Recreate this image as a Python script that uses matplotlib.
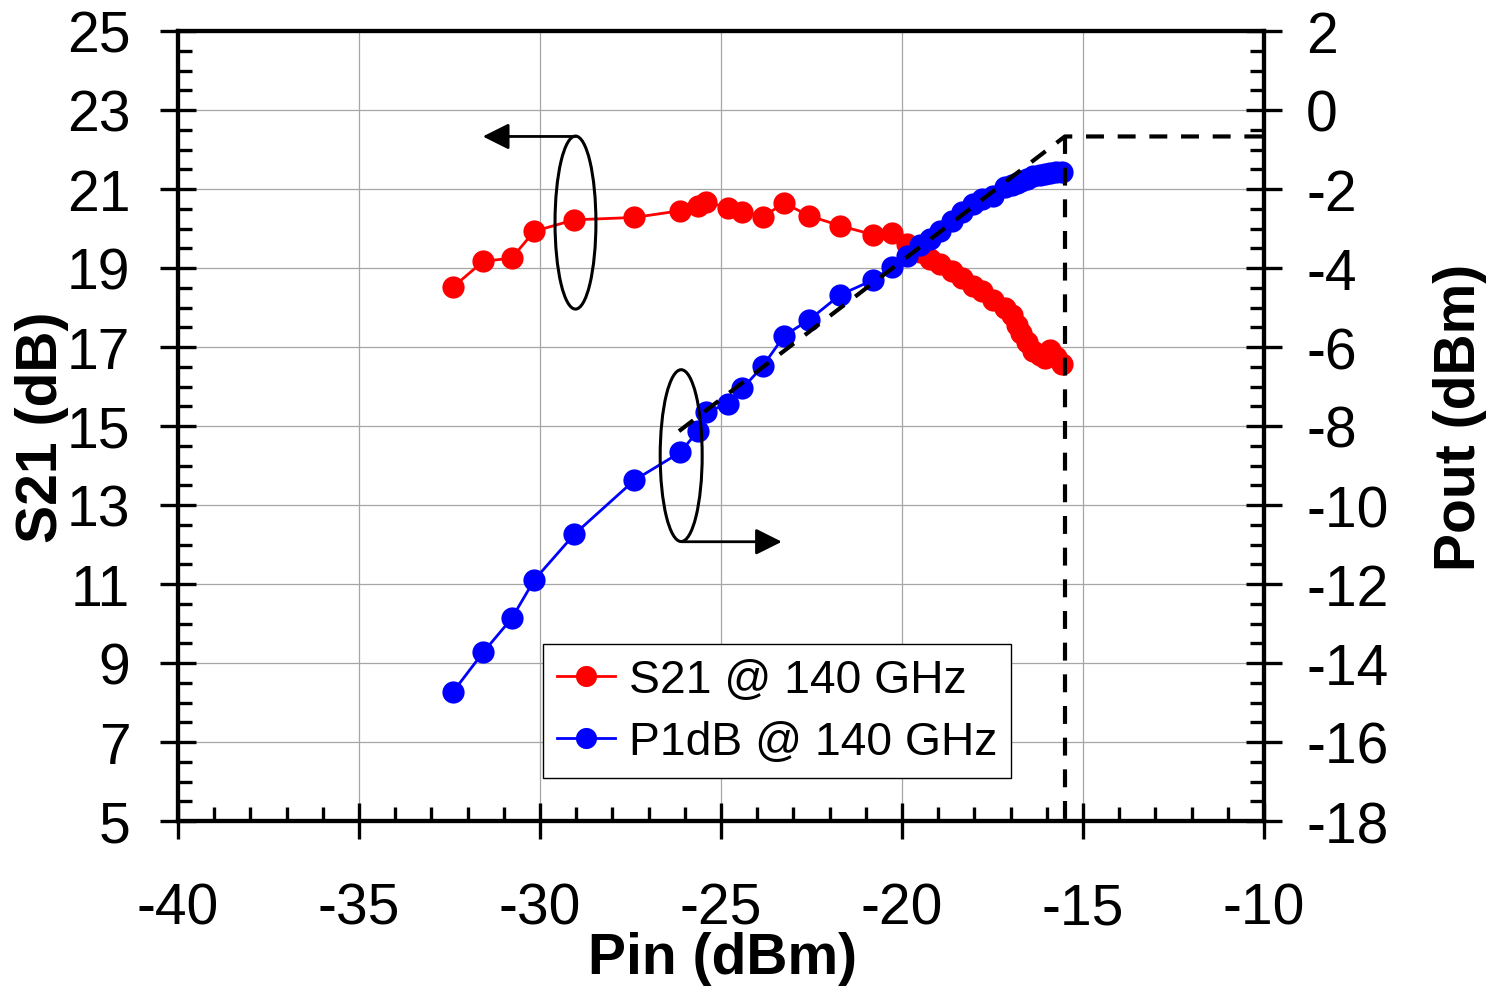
import matplotlib
matplotlib.use("Agg")
import matplotlib.pyplot as plt
from matplotlib.patches import Ellipse, FancyArrowPatch
from matplotlib.ticker import MultipleLocator

plt.rcParams['font.family'] = ['Liberation Sans', 'DejaVu Sans']

# ---- data ----
pin = [-32.41, -31.57, -30.78, -30.16, -29.05, -27.39, -26.13, -25.63, -25.41,
       -24.82, -24.41, -23.85, -23.25, -22.56, -21.71, -20.79, -20.29, -19.87,
       -19.50, -19.23, -18.95, -18.63, -18.35, -18.05, -17.80, -17.48, -17.15,
       -16.95, -16.83, -16.70, -16.56, -16.37, -16.20, -16.05, -15.91, -15.75,
       -15.59]
s21 = [18.51, 19.17, 19.25, 19.93, 20.22, 20.28, 20.45, 20.56, 20.68,
       20.52, 20.41, 20.30, 20.64, 20.32, 20.07, 19.84, 19.89, 19.61,
       19.40, 19.23, 19.10, 18.92, 18.75, 18.55, 18.43, 18.20, 18.00,
       17.80, 17.55, 17.35, 17.12, 16.91, 16.80, 16.72, 16.92, 16.75,
       16.57]
pout = [-14.74, -13.73, -12.87, -11.90, -10.74, -9.37, -8.67, -8.12, -7.65,
        -7.44, -7.05, -6.49, -5.71, -5.31, -4.68, -4.30, -3.98, -3.69,
        -3.43, -3.27, -3.06, -2.80, -2.59, -2.38, -2.25, -2.17, -1.96,
        -1.90, -1.85, -1.80, -1.75, -1.68, -1.64, -1.62, -1.60, -1.58,
        -1.56]

# linear-gain reference and P1dB markers (Pout axis)
ref_x = [-26.16, -15.5, -10.0]
ref_y = [-8.13, -0.67, -0.67]
p1db_x = [-15.5, -15.5]
p1db_y = [-0.67, -18.0]

s21_label = "S21 @ 140 GHz"
p1db_label = "P1dB @ 140 GHz"

W, H = 1499, 987
fig = plt.figure(figsize=(W / 100, H / 100), dpi=100)
L, R, T, B = 178, 1264, 32, 822
ax = fig.add_axes([L / W, 1 - B / H, (R - L) / W, (B - T) / H])
ax2 = ax.twinx()

tick_fs = 41
lab_fs = 41

ax.set_xlim(-40, -10)
ax.set_ylim(5, 25)
ax2.set_ylim(-18, 2)
ax.xaxis.set_major_locator(MultipleLocator(5))
ax.xaxis.set_minor_locator(MultipleLocator(1))
ax.yaxis.set_major_locator(MultipleLocator(2))
ax.yaxis.set_minor_locator(MultipleLocator(0.5))
ax2.yaxis.set_major_locator(MultipleLocator(2))
ax2.yaxis.set_minor_locator(MultipleLocator(0.5))

ax.grid(True, which='major', color='#a6a6a6', linewidth=0.9)
ax.set_axisbelow(True)

for a in (ax, ax2):
    for s in a.spines.values():
        s.set_linewidth(3)
ax.tick_params(axis='x', which='major', direction='inout', length=26.6, width=2.4,
               labelsize=tick_fs, pad=30, top=False)
ax.tick_params(axis='x', which='minor', direction='in', length=10, width=2.4, top=False)
ax.tick_params(axis='y', which='major', direction='inout', length=26.6, width=2.4,
               labelsize=tick_fs, pad=21)
ax.tick_params(axis='y', which='minor', direction='in', length=10, width=2.4)
ax2.tick_params(axis='y', which='major', direction='inout', length=26.6, width=2.4,
                labelsize=tick_fs, pad=17)
ax2.tick_params(axis='y', which='minor', direction='in', length=10, width=2.4)

ax.set_xticks([-40, -35, -30, -25, -20, -15, -10])
ax.set_xticklabels(['-40', '-35', '-30', '-25', '-20', '-15', '-10'])
ax.set_yticks(list(range(5, 26, 2)))
ax2.set_yticks(list(range(-18, 3, 2)))
ax2.set_yticklabels([str(v) for v in range(-18, 3, 2)])

l1, = ax.plot(pin, s21, '-o', color='#ff0000', lw=2, ms=16, mew=0, label=s21_label, zorder=3)
l2, = ax2.plot(pin, pout, '-o', color='#0000ff', lw=2, ms=16, mew=0, label=p1db_label, zorder=3)

ax2.plot(ref_x, ref_y, color='black', lw=3, dashes=(4.3, 3.3), zorder=5)
ax2.plot(p1db_x, p1db_y, color='black', lw=3, dashes=(4.3, 3.3), zorder=5)

# annotations (left-axis coordinates)
e1 = Ellipse((-29.02, 20.15), 1.13, 4.38, fill=False, ec='black', lw=2.2,
             transform=ax.transData, zorder=6)
e2 = Ellipse((-26.10, 14.25), 1.16, 4.35, fill=False, ec='black', lw=2.2,
             transform=ax.transData, zorder=6)
ax2.add_patch(e1)
ax2.add_patch(e2)
a1 = FancyArrowPatch((-29.02, 22.33), (-31.58, 22.33), transform=ax.transData,
                     arrowstyle='-|>,head_length=16,head_width=8', color='black',
                     lw=2, shrinkA=0, shrinkB=0, zorder=6)
a2 = FancyArrowPatch((-26.08, 12.07), (-23.32, 12.07), transform=ax.transData,
                     arrowstyle='-|>,head_length=16,head_width=8', color='black',
                     lw=2, shrinkA=0, shrinkB=0, zorder=6)
ax2.add_patch(a1)
ax2.add_patch(a2)

# labels
ax.set_xlabel('Pin (dBm)', fontsize=lab_fs, fontweight='bold')
ax.set_ylabel('S21 (dB)', fontsize=lab_fs, fontweight='bold')
ax2.set_ylabel('Pout (dBm)', fontsize=lab_fs, fontweight='bold')
ax.xaxis.set_label_coords((723 - L) / (R - L), (B - 959) / (B - T))
ax.xaxis.label.set_verticalalignment('center')
ax.yaxis.set_label_coords((42 - L) / (R - L), 0.5)
ax.yaxis.label.set_verticalalignment('center')
ax2.yaxis.set_label_coords((1460 - L) / (R - L), (B - 417) / (B - T))
ax2.yaxis.label.set_verticalalignment('center')
ax2.yaxis.label.set_rotation(90)

leg = ax2.legend([l1, l2], [s21_label, p1db_label], loc='upper left',
                 bbox_to_anchor=(543 / W, 1 - 645 / H), bbox_transform=fig.transFigure,
                 borderaxespad=0, fontsize=33.3, frameon=True, fancybox=False,
                 edgecolor='black', framealpha=1, handlelength=1.25,
                 handletextpad=0.3, borderpad=0.3, labelspacing=0.4, markerscale=0.95)
leg.get_frame().set_linewidth(1)
leg.set_zorder(10)

fig.savefig('out.png', dpi=100)
